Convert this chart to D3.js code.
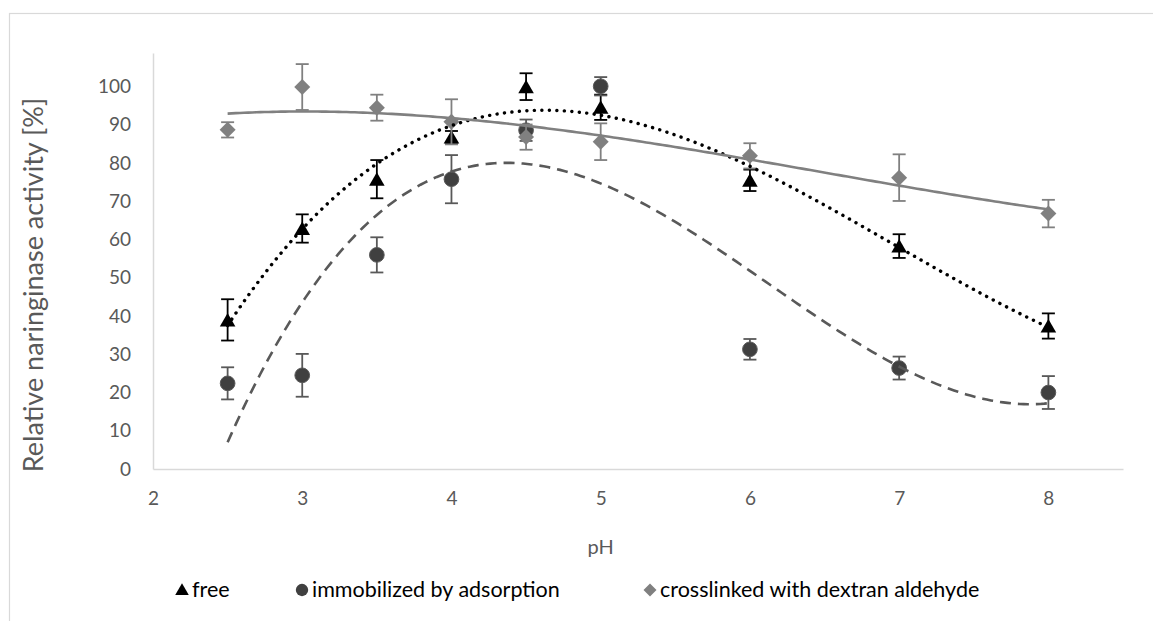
<!DOCTYPE html>
<html>
<head>
<meta charset="utf-8">
<script src="https://cdn.jsdelivr.net/npm/d3@7"></script>
<style>
  html, body { margin: 0; padding: 0; background: #fff; }
  svg { display: block; font-family: Lato, "Open Sans", sans-serif; }
</style>
</head>
<body>
<svg id="chart" width="1153" height="621"></svg>
<script>
// pH values shared by all three preparations
const ph = [2.5, 3, 3.5, 4, 4.5, 5, 6, 7, 8];

// relative activity [%] and standard deviation per preparation
const freeActivity = [39, 62.9, 75.8, 86.8, 100, 94.6, 75.5, 58.3, 37.4];
const freeError    = [5.4, 3.7, 5.0, 1.6, 3.5, 3.3, 2.8, 3.1, 3.3];

const adsorbedActivity = [22.4, 24.5, 56, 75.8, 88.6, 100.1, 31.3, 26.4, 20];
const adsorbedError    = [4.2, 5.6, 4.6, 6.3, 2.8, 2.4, 2.7, 3.0, 4.3];

const crosslinkedActivity = [88.7, 99.9, 94.5, 90.8, 86.8, 85.6, 81.9, 76.2, 66.8];
const crosslinkedError    = [2.0, 6.0, 3.4, 5.9, 3.3, 4.8, 3.3, 6.1, 3.6];

const xTicks = [2, 3, 4, 5, 6, 7, 8];
const yTicks = [0, 10, 20, 30, 40, 50, 60, 70, 80, 90, 100];

const seriesNames = ["free", "immobilized by adsorption", "crosslinked with dextran aldehyde"];

const svg = d3.select("#chart");

// outer chart frame
svg.append("rect")
  .attr("x", 9.5).attr("y", 13.5)
  .attr("width", 1200).attr("height", 700)
  .attr("fill", "none").attr("stroke", "#d9d9d9").attr("stroke-width", 1.2);

const x = d3.scaleLinear().domain([2, 8.5]).range([153, 1123]);
const y = d3.scaleLinear().domain([0, 108.8]).range([469, 53]);

// axes
const xAxis = d3.axisBottom(x).tickValues(xTicks).tickSize(0).tickPadding(23).tickFormat(d3.format("d"));
const yAxis = d3.axisLeft(y).tickValues(yTicks).tickSize(0).tickPadding(22).tickFormat(d3.format("d"));

const gx = svg.append("g").attr("transform", `translate(0,${y(0)})`).call(xAxis);
const gy = svg.append("g").attr("transform", `translate(${x(2)},0)`).call(yAxis);
[gx, gy].forEach(g => {
  g.select(".domain").attr("stroke", "#d9d9d9").attr("stroke-width", 1.5);
  g.selectAll("text").attr("fill", "#595959").attr("font-size", 19).attr("font-family", "Lato, sans-serif");
});

svg.append("text")
  .attr("x", x(5)).attr("y", 554)
  .attr("text-anchor", "middle")
  .attr("fill", "#595959").attr("font-size", 20)
  .text("pH");

svg.append("text")
  .attr("transform", `translate(43,285) rotate(-90)`)
  .attr("text-anchor", "middle")
  .attr("fill", "#595959").attr("font-size", 27)
  .text("Relative naringinase activity [%]");

// least-squares polynomial fit (trendline)
function polyFit(xs, ys, order) {
  const n = order + 1;
  const A = Array.from({length: n}, () => new Array(n + 1).fill(0));
  xs.forEach((xv, k) => {
    for (let i = 0; i < n; i++) {
      for (let j = 0; j < n; j++) A[i][j] += Math.pow(xv, i + j);
      A[i][n] += ys[k] * Math.pow(xv, i);
    }
  });
  for (let c = 0; c < n; c++) {
    let p = c;
    for (let r = c + 1; r < n; r++) if (Math.abs(A[r][c]) > Math.abs(A[p][c])) p = r;
    [A[c], A[p]] = [A[p], A[c]];
    for (let r = 0; r < n; r++) {
      if (r === c) continue;
      const f = A[r][c] / A[c][c];
      for (let k = c; k <= n; k++) A[r][k] -= f * A[c][k];
    }
  }
  const coef = A.map((row, i) => row[n] / row[i]);
  return xv => coef.reduce((s, c, i) => s + c * Math.pow(xv, i), 0);
}

// square diamond marker (rotated square)
const diamond = r => `M0,${-r}L${r},0L0,${r}L${-r},0Z`;

const series = [
  {name: seriesNames[0], vals: freeActivity, err: freeError, color: "#000000", errColor: "#000000",
   path: d3.symbol().type(d3.symbolTriangle).size(105)(), shift: 2, order: 3,
   line: {stroke: "#000000", width: 3.4, dash: "0.1 7.4", cap: "round"}},
  {name: seriesNames[1], vals: adsorbedActivity, err: adsorbedError, color: "#404040", errColor: "#595959",
   path: d3.symbol().type(d3.symbolCircle).size(170)(), shift: 0, order: 3,
   line: {stroke: "#595959", width: 2.6, dash: "11 7", cap: "butt"}},
  {name: seriesNames[2], vals: crosslinkedActivity, err: crosslinkedError, color: "#808080", errColor: "#808080",
   path: diamond(8), shift: 0, order: 3,
   line: {stroke: "#808080", width: 2.6, dash: null, cap: "butt"}}
];

const marks = svg.append("g");
const trends = svg.append("g");

series.forEach((s, si) => {
  const pts = ph.map((p, i) => ({p, v: s.vals[i], e: s.err[i]}));
  const g = marks.append("g");
  // error bars
  const eb = g.selectAll(".eb").data(pts).join("g").attr("stroke", s.errColor).attr("stroke-width", 1.8);
  eb.append("line").attr("x1", d => x(d.p)).attr("x2", d => x(d.p)).attr("y1", d => y(d.v - d.e)).attr("y2", d => y(d.v + d.e));
  eb.append("line").attr("x1", d => x(d.p) - 6.5).attr("x2", d => x(d.p) + 6.5).attr("y1", d => y(d.v - d.e)).attr("y2", d => y(d.v - d.e));
  eb.append("line").attr("x1", d => x(d.p) - 6.5).attr("x2", d => x(d.p) + 6.5).attr("y1", d => y(d.v + d.e)).attr("y2", d => y(d.v + d.e));
  // markers
  g.selectAll("path").data(pts).join("path")
    .attr("d", s.path)
    .attr("transform", d => `translate(${x(d.p)},${y(d.v) + s.shift})`)
    .attr("fill", s.color)
    .attr("stroke", si === 1 ? "#595959" : "none")
    .attr("stroke-width", 1);

  // trendline
  const f = polyFit(ph, s.vals, s.order);
  const xs = d3.range(0, 201).map(i => 2.5 + (8 - 2.5) * i / 200);
  trends.append("path")
    .datum(xs)
    .attr("d", d3.line().x(d => x(d)).y(d => y(f(d))))
    .attr("fill", "none")
    .attr("stroke", s.line.stroke)
    .attr("stroke-width", s.line.width)
    .attr("stroke-linecap", s.line.cap)
    .attr("stroke-dasharray", s.line.dash);
});

// legend
const legend = svg.append("g").attr("font-size", 21.5);
const legendItems = [
  {x: 182, path: d3.symbol().type(d3.symbolTriangle).size(80)(), color: "#000000", dy: 1},
  {x: 302, path: d3.symbol().type(d3.symbolCircle).size(120)(), color: "#404040", dy: 0},
  {x: 650, path: diamond(6.5), color: "#808080", dy: 0}
];
legendItems.forEach((it, i) => {
  legend.append("path")
    .attr("d", it.path)
    .attr("transform", `translate(${it.x},${590 + it.dy})`)
    .attr("fill", it.color);
  legend.append("text")
    .attr("x", it.x + 10).attr("y", 597)
    .attr("fill", "#000")
    .text(seriesNames[i]);
});
</script>
</body>
</html>
